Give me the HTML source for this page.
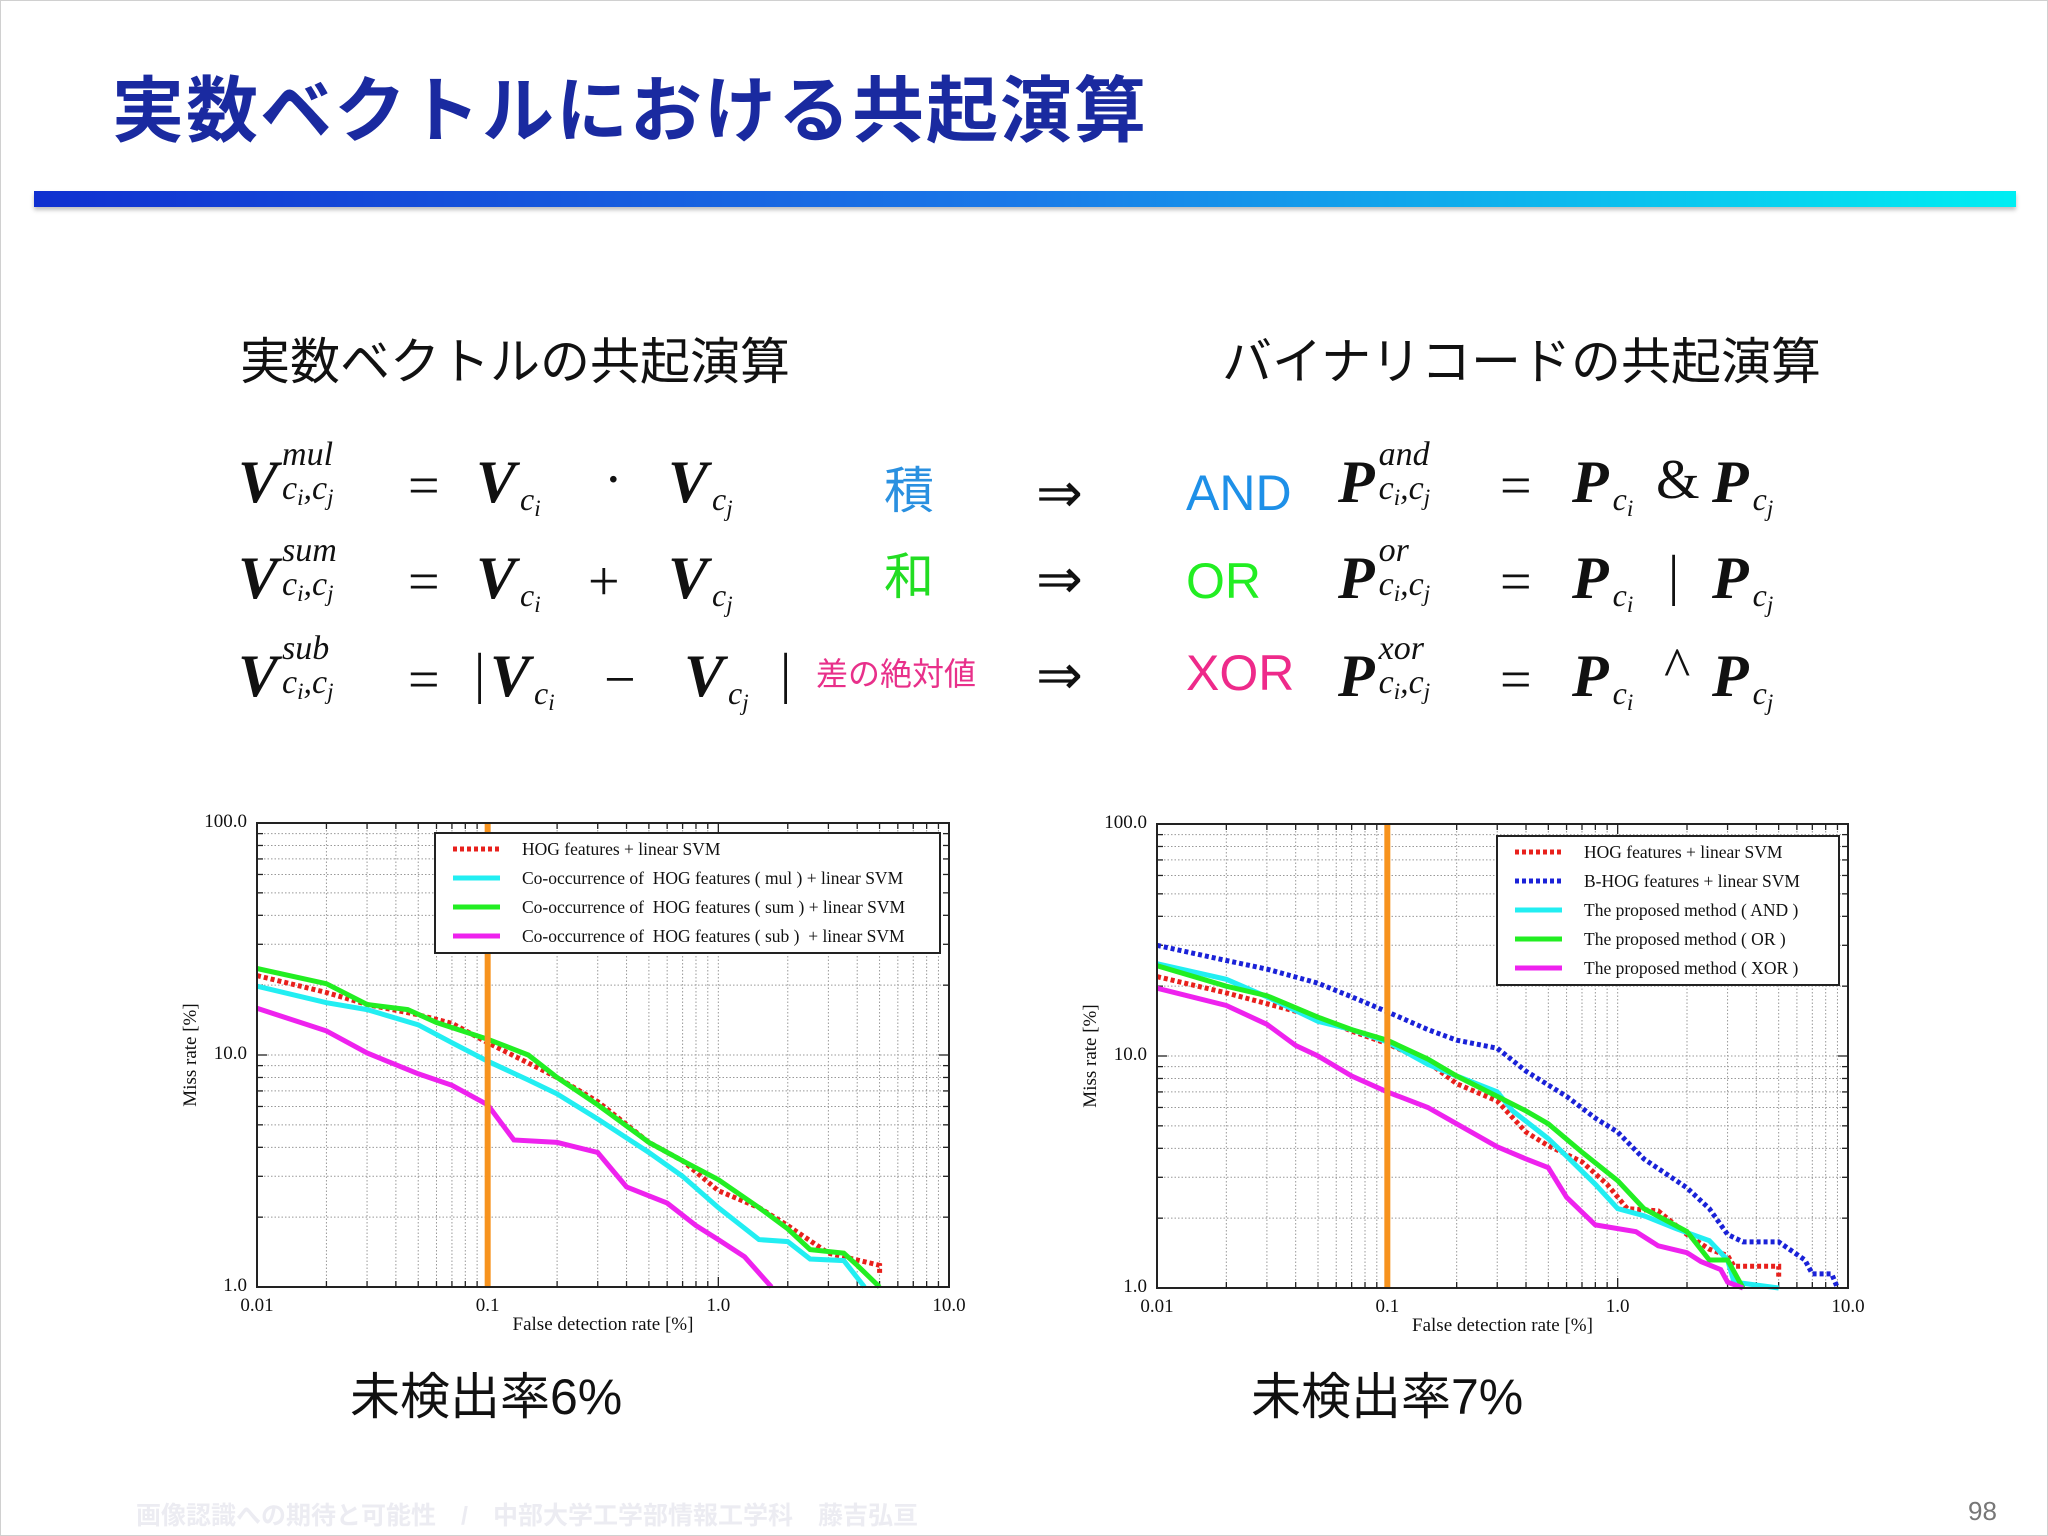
<!DOCTYPE html>
<html><head><meta charset="utf-8">
<style>
html,body{margin:0;padding:0;}
body{width:2048px;height:1536px;position:relative;background:#fff;overflow:hidden;font-family:"Liberation Sans","Noto Sans CJK JP",sans-serif;}
.frame{position:absolute;left:0;top:0;width:2046px;height:1534px;border:1px solid #d0d0d0;}
.title{position:absolute;left:112px;top:52px;font-size:72px;font-weight:bold;color:#1a2aa0;letter-spacing:2px;white-space:nowrap;}
.bar{position:absolute;left:34px;top:191px;width:1982px;height:16px;background:linear-gradient(90deg,#1030d0,#1a7ae8 50%,#00eef2);box-shadow:0 3px 4px rgba(0,0,0,0.25);}
.sub{position:absolute;font-size:50px;color:#111;white-space:nowrap;}
.m{position:absolute;font-family:"Liberation Serif",serif;font-style:italic;font-weight:bold;font-size:60px;color:#111;white-space:nowrap;line-height:1;}
.op{position:absolute;font-family:"Liberation Serif",serif;font-size:56px;color:#111;line-height:1;white-space:nowrap;}
.ss{display:inline-flex;flex-direction:column;vertical-align:middle;font-size:34px;font-weight:normal;line-height:1;margin-left:4px;}
.ss .sp{margin-bottom:-2px;margin-top:-30px;}
.ss .sb{margin-top:2px;}
.sb2{font-size:32px;font-weight:normal;vertical-align:-8px;margin-left:4px;}
.sb2 small{font-size:23px;vertical-align:-6px;}
.ss small{font-size:23px;vertical-align:-6px;}
.kw{position:absolute;font-size:50px;white-space:nowrap;line-height:1;}
.res{position:absolute;font-size:50px;color:#111;white-space:nowrap;}
.footer{position:absolute;left:136px;top:1496px;font-size:25px;font-weight:bold;color:#ececf2;white-space:nowrap;}
.pnum{position:absolute;left:1968px;top:1496px;font-size:26px;color:#777;}
svg text{font-family:"Liberation Serif",serif;white-space:pre;}
</style></head><body>
<div class="frame"></div>
<div class="title">実数ベクトルにおける共起演算</div>
<div class="bar"></div>

<div class="sub" style="left:240px;top:322px">実数ベクトルの共起演算</div>
<div class="sub" style="left:1222px;top:322px">バイナリコードの共起演算</div>

<!-- row 1 -->
<div class="m" style="left:238px;top:452px">V<span class="ss"><span class="sp">mul</span><span class="sb">c<small>i</small>,c<small>j</small></span></span></div>
<div class="op" style="left:408px;top:458px">=</div>
<div class="m" style="left:476px;top:452px">V<span class="sb2">c<small>i</small></span></div>
<div class="op" style="left:604px;top:452px">·</div>
<div class="m" style="left:668px;top:452px">V<span class="sb2">c<small>j</small></span></div>
<div class="kw" style="left:884px;top:466px;color:#2a90e0">積</div>
<div class="op" style="left:1036px;top:466px">⇒</div>
<div class="kw" style="left:1186px;top:468px;color:#1e90e8">AND</div>
<div class="m" style="left:1338px;top:452px">P<span class="ss"><span class="sp">and</span><span class="sb">c<small>i</small>,c<small>j</small></span></span></div>
<div class="op" style="left:1500px;top:458px">=</div>
<div class="m" style="left:1572px;top:452px">P<span class="sb2">c<small>i</small></span></div>
<div class="op" style="left:1656px;top:452px">&amp;</div>
<div class="m" style="left:1712px;top:452px">P<span class="sb2">c<small>j</small></span></div>

<!-- row 2 -->
<div class="m" style="left:238px;top:548px">V<span class="ss"><span class="sp">sum</span><span class="sb">c<small>i</small>,c<small>j</small></span></span></div>
<div class="op" style="left:408px;top:554px">=</div>
<div class="m" style="left:476px;top:548px">V<span class="sb2">c<small>i</small></span></div>
<div class="op" style="left:588px;top:554px">+</div>
<div class="m" style="left:668px;top:548px">V<span class="sb2">c<small>j</small></span></div>
<div class="kw" style="left:884px;top:552px;color:#22dd22">和</div>
<div class="op" style="left:1036px;top:552px">⇒</div>
<div class="kw" style="left:1186px;top:556px;color:#22ee22">OR</div>
<div class="m" style="left:1338px;top:548px">P<span class="ss"><span class="sp">or</span><span class="sb">c<small>i</small>,c<small>j</small></span></span></div>
<div class="op" style="left:1500px;top:554px">=</div>
<div class="m" style="left:1572px;top:548px">P<span class="sb2">c<small>i</small></span></div>
<div class="op" style="left:1668px;top:548px">|</div>
<div class="m" style="left:1712px;top:548px">P<span class="sb2">c<small>j</small></span></div>

<!-- row 3 -->
<div class="m" style="left:238px;top:646px">V<span class="ss"><span class="sp">sub</span><span class="sb">c<small>i</small>,c<small>j</small></span></span></div>
<div class="op" style="left:408px;top:652px">=</div>
<div class="op" style="left:474px;top:646px">|</div>
<div class="m" style="left:490px;top:646px">V<span class="sb2">c<small>i</small></span></div>
<div class="op" style="left:604px;top:652px">−</div>
<div class="m" style="left:684px;top:646px">V<span class="sb2">c<small>j</small></span></div>
<div class="op" style="left:780px;top:646px">|</div>
<div class="kw" style="left:816px;top:658px;font-size:32px;color:#e8308a">差の絶対値</div>
<div class="op" style="left:1036px;top:648px">⇒</div>
<div class="kw" style="left:1186px;top:648px;color:#ee2a8a">XOR</div>
<div class="m" style="left:1338px;top:646px">P<span class="ss"><span class="sp">xor</span><span class="sb">c<small>i</small>,c<small>j</small></span></span></div>
<div class="op" style="left:1500px;top:652px">=</div>
<div class="m" style="left:1572px;top:646px">P<span class="sb2">c<small>i</small></span></div>
<div class="op" style="left:1664px;top:640px">^</div>
<div class="m" style="left:1712px;top:646px">P<span class="sb2">c<small>j</small></span></div>

<svg id="chartL" style="position:absolute;left:0;top:0" width="2048" height="1536"></svg>

<div class="res" style="left:350px;top:1357px">未検出率6%</div>
<div class="res" style="left:1251px;top:1357px">未検出率7%</div>
<div class="footer">画像認識への期待と可能性　/　中部大学工学部情報工学科　藤吉弘亘</div>
<div class="pnum">98</div>

<script>
// Left chart data
const leftSeriesNames = ["HOG features + linear SVM","Co-occurrence of  HOG features ( mul ) + linear SVM","Co-occurrence of  HOG features ( sum ) + linear SVM","Co-occurrence of  HOG features ( sub )  + linear SVM"];
const leftHogX = [0.01,0.02,0.03,0.05,0.07,0.1,0.2,0.3,0.5,0.7,1,1.5,2,3,5,5];
const leftHogY = [22,18.6,16.5,14.9,13.7,11.3,8.0,6.3,4.2,3.5,2.6,2.2,1.84,1.4,1.24,1.15];
const leftMulX = [0.01,0.02,0.03,0.05,0.07,0.1,0.15,0.2,0.3,0.5,0.7,1,1.5,2,2.5,3.5,4.3];
const leftMulY = [19.8,16.8,15.7,13.5,11.3,9.4,7.8,6.8,5.3,3.8,3.0,2.2,1.6,1.57,1.32,1.3,1.0];
const leftSumX = [0.01,0.02,0.03,0.045,0.06,0.1,0.15,0.2,0.3,0.5,0.7,1,1.5,2,2.5,3.5,4,5];
const leftSumY = [23.6,20.3,16.5,15.7,13.8,11.7,10,8,6.1,4.2,3.5,2.9,2.2,1.78,1.45,1.4,1.24,1.0];
const leftSubX = [0.01,0.02,0.03,0.05,0.07,0.1,0.13,0.2,0.3,0.4,0.6,0.8,1,1.3,1.7];
const leftSubY = [15.9,12.7,10.2,8.3,7.4,6.1,4.3,4.2,3.8,2.7,2.3,1.84,1.6,1.35,1.0];
// Right chart data
const rightSeriesNames = ["HOG features + linear SVM","B-HOG features + linear SVM","The proposed method ( AND )","The proposed method ( OR )","The proposed method ( XOR )"];
const rightHogX = [0.01,0.02,0.03,0.05,0.07,0.1,0.15,0.2,0.3,0.4,0.5,0.7,0.9,1.1,1.5,2,2.5,3,3.2,5,5];
const rightHogY = [22,18.7,16.8,14.7,12.8,11.3,9.4,7.6,6.4,4.7,4.1,3.5,2.8,2.2,2.15,1.7,1.47,1.38,1.24,1.24,1.1];
const rightBhogX = [0.01,0.02,0.03,0.05,0.07,0.1,0.15,0.2,0.3,0.4,0.6,0.8,1,1.3,2,2.5,3,3.5,5,6.5,7,8.5,9];
const rightBhogY = [30,25.8,23.7,20.6,18,15.5,13,11.7,10.8,8.6,6.7,5.4,4.7,3.6,2.7,2.2,1.7,1.58,1.58,1.32,1.15,1.15,1.0];
const rightAndX = [0.01,0.02,0.03,0.05,0.07,0.1,0.15,0.2,0.3,0.35,0.5,0.6,0.8,1,1.3,1.8,2.5,3,3.2,5];
const rightAndY = [25,21.4,18,14.1,13,11.5,9.2,8.2,7,5.8,4.4,3.7,2.8,2.2,2.05,1.8,1.6,1.32,1.06,1.0];
const rightOrX = [0.01,0.02,0.03,0.05,0.07,0.1,0.15,0.2,0.3,0.4,0.5,0.7,1,1.3,2,2.5,3,3.5];
const rightOrY = [24.5,20,18.2,14.7,13,11.7,9.7,8.2,6.7,5.8,5.1,3.85,2.9,2.2,1.75,1.32,1.32,1.0];
const rightXorX = [0.01,0.02,0.03,0.04,0.05,0.07,0.1,0.15,0.2,0.3,0.4,0.5,0.6,0.8,1.2,1.5,2,2.3,2.8,3,3.5];
const rightXorY = [19.6,16.5,13.7,11.1,10,8.2,7,6,5.1,4.06,3.6,3.3,2.46,1.87,1.75,1.52,1.42,1.3,1.2,1.06,1.0];
const xTickLabels = ["0.01","0.1","1.0","10.0"];
const yTickLabels = ["1.0","10.0","100.0"];

const NS = "http://www.w3.org/2000/svg";
const svg = document.getElementById('chartL');
function mk(tag, attrs, parent){const e=document.createElementNS(NS,tag);for(const k in attrs)e.setAttribute(k,attrs[k]);(parent||svg).appendChild(e);return e;}

function drawChart(box, series, legendBox, key){
  const g = mk('g',{});
  
  
  const xs = v => box.x0 + (Math.log10(v)+2)/3*(box.x1-box.x0);
  const ys = v => box.y1 - Math.log10(v)/2*(box.y1-box.y0);
  for(let d=-2; d<1; d++){
    for(let m=1;m<10;m++){
      const v=m*Math.pow(10,d); if(m===1&&d===-2) continue;
      const x=xs(v);
      const l=mk('line',{x1:x,x2:x,y1:box.y0,y2:box.y1,stroke:'#999','stroke-width':1,'stroke-dasharray':'1.5 2'},g);
      
      
      mk('line',{x1:x,x2:x,y1:box.y1,y2:box.y1-(m===1?10:6),stroke:'#222','stroke-width':1.3},g);
      mk('line',{x1:x,x2:x,y1:box.y0,y2:box.y0+(m===1?10:6),stroke:'#222','stroke-width':1.3},g);
    }
  }
  for(let d=0; d<2; d++){
    for(let m=1;m<10;m++){
      const v=m*Math.pow(10,d); if(m===1&&d===0) continue;
      const y=ys(v);
      const l=mk('line',{x1:box.x0,x2:box.x1,y1:y,y2:y,stroke:'#999','stroke-width':1,'stroke-dasharray':'1.5 2'},g);
      
      
      mk('line',{x1:box.x0,x2:box.x0+(m===1?10:6),y1:y,y2:y,stroke:'#222','stroke-width':1.3},g);
      mk('line',{x1:box.x1,x2:box.x1-(m===1?10:6),y1:y,y2:y,stroke:'#222','stroke-width':1.3},g);
    }
  }
  xTickLabels.forEach((t,i)=>{
    const tx=mk('text',{x:xs(Math.pow(10,i-2)),y:box.y1+24,'text-anchor':'middle','font-size':19,fill:'#111'},g);
    tx.textContent=t;
    
    
  });
  yTickLabels.forEach((t,i)=>{
    const tx=mk('text',{x:box.x0-10,y:ys(Math.pow(10,i))+4,'text-anchor':'end','font-size':19,fill:'#111'},g);
    tx.textContent=t;
    
    
  });
  const xt=mk('text',{x:(box.x0+box.x1)/2,y:box.y1+43,'text-anchor':'middle','font-size':19,fill:'#111'},g);
  xt.textContent='False detection rate [%]';
  
  
  const yt=mk('text',{x:0,y:0,'text-anchor':'middle','font-size':19,fill:'#111',transform:`translate(${box.x0-61},${(box.y0+box.y1)/2}) rotate(-90)`},g);
  yt.textContent='Miss rate [%]';
  
  
  series.forEach(s=>{
    let d='';
    s.x.forEach((v,i)=>{ d += (i?'L':'M') + xs(v).toFixed(1)+','+ys(s.y[i]).toFixed(1); });
    const p=mk('path',{d:d,fill:'none',stroke:s.color,'stroke-width':5,'stroke-linejoin':'miter'},g);
    if(s.dash) p.setAttribute('stroke-dasharray','4 3');
    
    
  });
  const ol=mk('line',{x1:xs(0.1),x2:xs(0.1),y1:box.y0,y2:box.y1,stroke:'#f7931e','stroke-width':6},g);
  
  
  const fr=mk('rect',{x:box.x0,y:box.y0,width:box.x1-box.x0,height:box.y1-box.y0,fill:'none',stroke:'#222','stroke-width':2},g);
  
  
  const lg=mk('rect',{x:legendBox.x,y:legendBox.y,width:legendBox.w,height:legendBox.h,fill:'#fff',stroke:'#222','stroke-width':2},g);
  
  
  series.forEach((s,i)=>{
    const y=legendBox.y+16+i*legendBox.step;
    const sw=mk('line',{x1:legendBox.x+18,x2:legendBox.x+65,y1:y,y2:y,stroke:s.color,'stroke-width':5},g);
    if(s.dash) sw.setAttribute('stroke-dasharray','4 3');
    
    
    const t=mk('text',{x:legendBox.x+87,y:y+6,'font-size':17.5,fill:'#111'},g);
    t.textContent=s.name;
    
    
  });
}

drawChart({x0:257,x1:949,y0:823,y1:1287},[
  {name:leftSeriesNames[0],x:leftHogX,y:leftHogY,color:'#e8201c',dash:true},
  {name:leftSeriesNames[1],x:leftMulX,y:leftMulY,color:'#22eef2'},
  {name:leftSeriesNames[2],x:leftSumX,y:leftSumY,color:'#22ee22'},
  {name:leftSeriesNames[3],x:leftSubX,y:leftSubY,color:'#ee22ee'}
], {x:435,y:833,w:505,h:120,step:29}, 'left');

drawChart({x0:1157,x1:1848,y0:824,y1:1288},[
  {name:rightSeriesNames[0],x:rightHogX,y:rightHogY,color:'#e8201c',dash:true},
  {name:rightSeriesNames[1],x:rightBhogX,y:rightBhogY,color:'#1a22d8',dash:true},
  {name:rightSeriesNames[2],x:rightAndX,y:rightAndY,color:'#22eef2'},
  {name:rightSeriesNames[3],x:rightOrX,y:rightOrY,color:'#22ee22'},
  {name:rightSeriesNames[4],x:rightXorX,y:rightXorY,color:'#ee22ee'}
], {x:1497,y:836,w:342,h:149,step:29}, 'right');
</script>
</body></html>
